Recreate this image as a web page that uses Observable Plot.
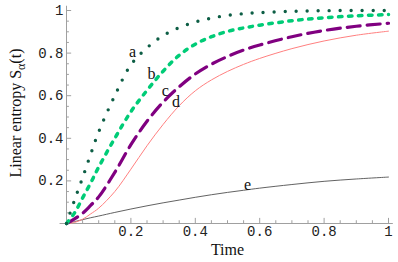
<!DOCTYPE html>
<html><head><meta charset="utf-8">
<script src="https://cdn.jsdelivr.net/npm/d3@7"></script>
<script src="https://cdn.jsdelivr.net/npm/@observablehq/plot@0.6"></script>
<style>body{margin:0;background:#fff}svg{display:block}</style>
</head><body><div id="chart"></div>
<script>
// time grid
const time = [0,0.025,0.05,0.075,0.1,0.15,0.2,0.25,0.3,0.35,0.4,0.45,0.5,0.55,0.6,0.7,0.8,0.9,1];
// curves
const curveA = [0,0.11,0.215,0.325,0.43,0.6,0.745,0.825,0.882,0.92,0.946,0.964,0.977,0.985,0.99,0.996,0.999,1.0,1.0];
const curveB = [0,0.05,0.12,0.19,0.265,0.4,0.525,0.625,0.715,0.79,0.842,0.877,0.902,0.918,0.931,0.952,0.966,0.975,0.981];
const curveC = [0,0.022,0.048,0.085,0.125,0.24,0.37,0.48,0.57,0.642,0.702,0.748,0.784,0.814,0.838,0.877,0.906,0.926,0.94];
const curveD = [0,0.005,0.02,0.045,0.072,0.15,0.255,0.365,0.465,0.553,0.623,0.674,0.714,0.747,0.775,0.821,0.857,0.884,0.903];
const curveE = [0,0.009,0.018,0.027,0.035,0.052,0.068,0.083,0.097,0.11,0.123,0.135,0.146,0.156,0.166,0.183,0.198,0.209,0.218];
// curve labels
const labelText = ["a","b","c","d","e"];
const labelT = [0.205,0.264,0.307,0.34,0.562];
const labelS = [0.808,0.704,0.624,0.573,0.183];
// ticks
const xTicks = [0.2,0.4,0.6,0.8,1];
const xTickLabels = ["0.2","0.4","0.6","0.8","1"];
const yTicks = [0.2,0.4,0.6,0.8,1];
const yTickLabels = ["0.2","0.4","0.6","0.8","1"];
const minorTicks = d3.range(1,20).map(i => i*0.05).filter(v => Math.abs(v*5 - Math.round(v*5)) > 1e-6);
const xTitle = "Time";
const yTitle = "Linear entropy S";
const ySub = "α";
const yTail = "(t)";

const rows = (vals) => time.map((t,i) => ({t, s: vals[i]}));
const labels = labelText.map((l,i) => ({l, t: labelT[i], s: labelS[i]}));
const mono = "Liberation Mono, Courier New, monospace";
const serif = "Liberation Serif, Times New Roman, serif";

const chart = Plot.plot({
  width: 398, height: 262,
  marginLeft: 66, marginRight: 10, marginTop: 10, marginBottom: 39,
  x: {domain: [0,1], label: null},
  y: {domain: [0,1], label: null},
  style: {background: "white", overflow: "visible"},
  marks: [
    Plot.ruleY([0], {x1: -0.02, x2: 1.015, stroke: "#a0a0a0", strokeWidth: 1}),
    Plot.ruleX([0], {y1: 0, y2: 1.02, stroke: "#a0a0a0", strokeWidth: 1}),
    Plot.ruleX(xTicks, {x: d => d, y1: 0, y2: 0.024, stroke: "#a0a0a0"}),
    Plot.ruleX(minorTicks, {x: d => d, y1: 0, y2: 0.013, stroke: "#a0a0a0"}),
    Plot.ruleY(yTicks, {y: d => d, x1: 0, x2: 0.016, stroke: "#a0a0a0"}),
    Plot.ruleY(minorTicks, {y: d => d, x1: 0, x2: 0.009, stroke: "#a0a0a0"}),
    Plot.axisX({ticks: xTicks, tickSize: 0, tickPadding: 3, tickFormat: (d,i) => xTickLabels[i], fontFamily: mono, fontSize: 14, fill: "#222", label: null}),
    Plot.axisY({ticks: yTicks, tickSize: 0, tickPadding: 3, tickFormat: (d,i) => yTickLabels[i], fontFamily: mono, fontSize: 14, fill: "#222", label: null}),
    Plot.line(rows(curveE), {x: "t", y: "s", stroke: "#505050", strokeWidth: 0.9, curve: "catmull-rom"}),
    Plot.line(rows(curveD), {x: "t", y: "s", stroke: "#ff8080", strokeWidth: 1, curve: "catmull-rom"}),
    Plot.line(rows(curveC), {x: "t", y: "s", stroke: "#800080", strokeWidth: 3.2, strokeDasharray: "13 7", curve: "catmull-rom"}),
    Plot.line(rows(curveB), {x: "t", y: "s", stroke: "#00cc77", strokeWidth: 3.5, strokeDasharray: "3.5 6.5", strokeLinecap: "round", curve: "catmull-rom"}),
    Plot.line(rows(curveA), {x: "t", y: "s", stroke: "#0d5e45", strokeWidth: 3.4, strokeDasharray: "0 11", strokeLinecap: "round", curve: "catmull-rom"}),
    Plot.text(labels, {x: "t", y: "s", text: "l", fontFamily: serif, fontSize: 16, fill: "#111"}),
    Plot.text([xTitle], {text: d => d, frameAnchor: "bottom", dy: 31, fontFamily: serif, fontSize: 16, fill: "#111"}),
    Plot.text([yTitle], {text: d => d, frameAnchor: "left", textAnchor: "middle", dx: -51, dy: -4, rotate: -90, fontFamily: serif, fontSize: 16, fill: "#111"})
  ]
});
chart.querySelectorAll("text").forEach(el => {
  if (el.textContent === yTitle) {
    const ns = "http://www.w3.org/2000/svg";
    const s1 = document.createElementNS(ns, "tspan");
    s1.setAttribute("dy", "4"); s1.setAttribute("font-size", "12"); s1.textContent = ySub;
    const s2 = document.createElementNS(ns, "tspan");
    s2.setAttribute("dy", "-4"); s2.textContent = yTail;
    el.appendChild(s1); el.appendChild(s2);
  }
});
document.getElementById("chart").appendChild(chart);
</script></body></html>
